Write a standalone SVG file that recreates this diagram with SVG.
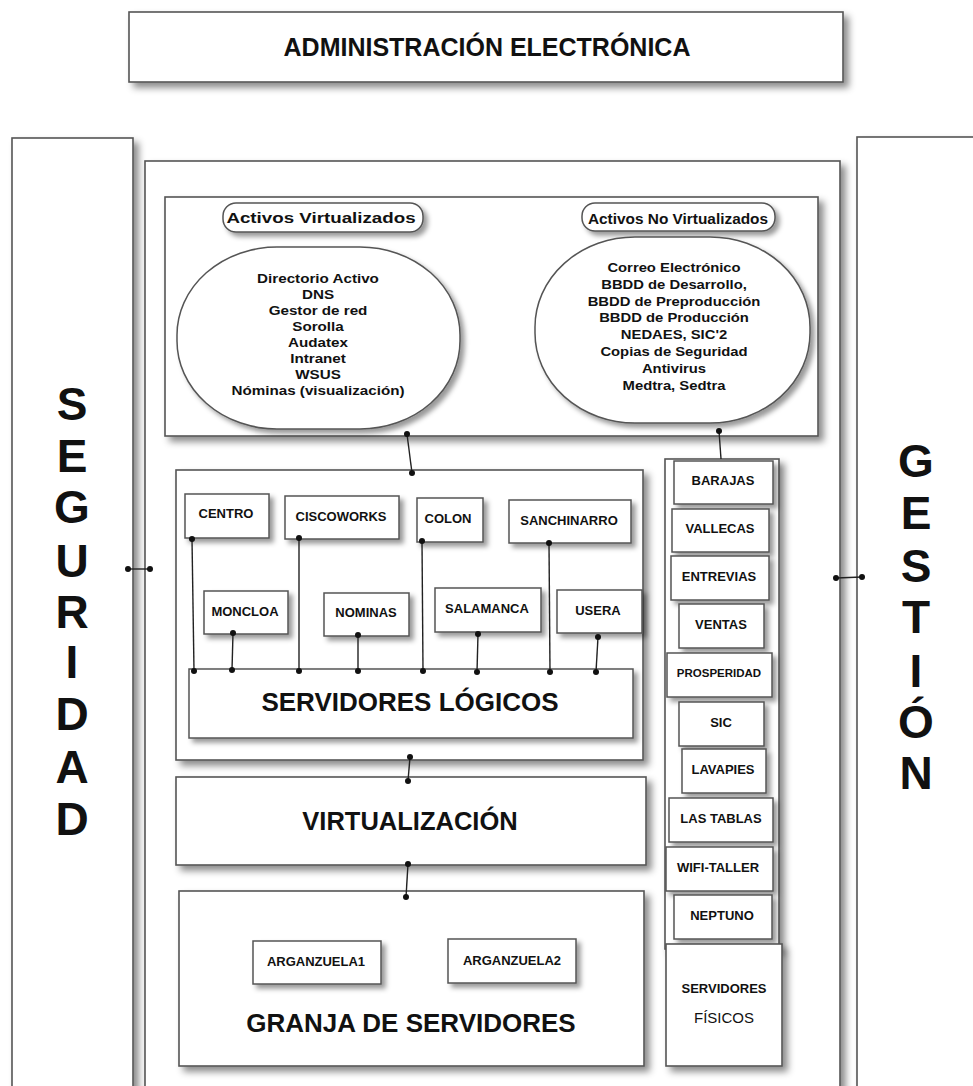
<svg xmlns="http://www.w3.org/2000/svg" width="973" height="1086" viewBox="0 0 973 1086">
<defs>
<filter id="sh" x="-10%" y="-10%" width="130%" height="130%">
<feDropShadow dx="5" dy="5" stdDeviation="3.5" flood-color="#000" flood-opacity="0.45"/>
</filter>
<filter id="shs" x="-20%" y="-20%" width="150%" height="160%">
<feDropShadow dx="4" dy="4" stdDeviation="2.5" flood-color="#000" flood-opacity="0.4"/>
</filter>
<style>
.box{fill:#fff;stroke:#555;stroke-width:1.6;filter:url(#sh)}
.sbox{fill:#fff;stroke:#555;stroke-width:1.5;filter:url(#shs)}
.t{font-family:"Liberation Sans",Arial,sans-serif;font-weight:bold;fill:#111;text-anchor:middle}
.big{font-size:26px}
.lbl{font-size:13px}
.side{font-size:46px}
.line{stroke:#222;stroke-width:1.4;fill:none}
.dot{fill:#111}
</style>
</defs>
<rect width="973" height="1086" fill="#fff"/>

<g id="admin-electronica">
<rect class="box" x="129" y="12" width="714" height="70"/>
<text class="t" x="487" y="56" font-size="25">ADMINISTRACIÓN ELECTRÓNICA</text>
</g>

<g id="seguridad">
<rect class="box" x="12" y="138" width="121" height="970"/>
<text class="t side" x="72" y="420">S</text>
<text class="t side" x="72" y="472">E</text>
<text class="t side" x="72" y="523">G</text>
<text class="t side" x="72" y="577">U</text>
<text class="t side" x="72" y="628">R</text>
<text class="t side" x="72" y="678">I</text>
<text class="t side" x="72" y="730">D</text>
<text class="t side" x="72" y="783">A</text>
<text class="t side" x="72" y="835">D</text>
</g>

<g id="gestion">
<rect class="box" x="857" y="137" width="130" height="970"/>
<text class="t side" x="916" y="477">G</text>
<text class="t side" x="916" y="529">E</text>
<text class="t side" x="916" y="582">S</text>
<text class="t side" x="916" y="633">T</text>
<text class="t side" x="916" y="687">I</text>
<text class="t side" x="916" y="738">Ó</text>
<text class="t side" x="916" y="789">N</text>
</g>

<g id="main-container">
<rect class="box" x="145" y="161" width="695" height="950"/>
</g>

<g id="activos">
<rect class="box" x="165" y="197" width="653" height="239"/>
</g>

<g id="activos-virtualizados">
<rect class="sbox" x="223" y="203" width="200" height="29" rx="13" ry="13"/>
<text class="t" font-size="15" transform="translate(321,223) scale(1.25,1)" x="0" y="0">Activos Virtualizados</text>
<rect class="sbox" x="177" y="247" width="283" height="182" rx="100" ry="88"/>
<g transform="translate(318,0) scale(1.17,1)">
<text class="t" font-size="13" x="0" y="283">Directorio Activo</text>
<text class="t" font-size="13" x="0" y="299">DNS</text>
<text class="t" font-size="13" x="0" y="315">Gestor de red</text>
<text class="t" font-size="13" x="0" y="331">Sorolla</text>
<text class="t" font-size="13" x="0" y="347">Audatex</text>
<text class="t" font-size="13" x="0" y="363">Intranet</text>
<text class="t" font-size="13" x="0" y="379">WSUS</text>
<text class="t" font-size="13" x="0" y="395">Nóminas (visualización)</text>
</g>
</g>

<g id="activos-no-virtualizados">
<rect class="sbox" x="582" y="203" width="193" height="28" rx="13" ry="13"/>
<text class="t" font-size="14" transform="translate(678,224) scale(1.1,1)" x="0" y="0">Activos No Virtualizados</text>
<rect class="sbox" x="535" y="237" width="275" height="186" rx="100" ry="90"/>
<g transform="translate(674,0) scale(1.14,1)">
<text class="t" font-size="13" x="0" y="272">Correo Electrónico</text>
<text class="t" font-size="13" x="0" y="289">BBDD de Desarrollo,</text>
<text class="t" font-size="13" x="0" y="306">BBDD de Preproducción</text>
<text class="t" font-size="13" x="0" y="322">BBDD de Producción</text>
<text class="t" font-size="13" x="0" y="339">NEDAES, SIC'2</text>
<text class="t" font-size="13" x="0" y="356">Copias de Seguridad</text>
<text class="t" font-size="13" x="0" y="373">Antivirus</text>
<text class="t" font-size="13" x="0" y="390">Medtra, Sedtra</text>
</g>
</g>

<g id="logicos-area">
<rect class="box" x="176" y="470" width="467" height="290"/>
</g>
<g id="centro"><rect class="sbox" x="185" y="494" width="84" height="44"/><text class="t lbl" x="226" y="518">CENTRO</text></g>
<g id="ciscoworks"><rect class="sbox" x="285" y="496" width="114" height="43"/><text class="t lbl" x="341" y="521">CISCOWORKS</text></g>
<g id="colon"><rect class="sbox" x="417" y="498" width="66" height="44"/><text class="t lbl" x="448" y="523">COLON</text></g>
<g id="sanchinarro"><rect class="sbox" x="509" y="500" width="122" height="43"/><text class="t lbl" x="569" y="525">SANCHINARRO</text></g>
<g id="moncloa"><rect class="sbox" x="204" y="591" width="84" height="43"/><text class="t lbl" x="245" y="616">MONCLOA</text></g>
<g id="nominas"><rect class="sbox" x="324" y="593" width="85" height="43"/><text class="t lbl" x="366" y="617">NOMINAS</text></g>
<g id="salamanca"><rect class="sbox" x="435" y="588" width="106" height="44"/><text class="t lbl" x="487" y="613">SALAMANCA</text></g>
<g id="usera"><rect class="sbox" x="557" y="590" width="85" height="43"/><text class="t lbl" x="598" y="615">USERA</text></g>
<g id="servidores-logicos">
<rect class="sbox" x="189" y="669" width="444" height="69"/>
<text class="t big" x="410" y="711">SERVIDORES LÓGICOS</text>
</g>

<g id="virtualizacion">
<rect class="box" x="176" y="777" width="470" height="88"/>
<text class="t" font-size="25.5" x="410" y="830">VIRTUALIZACIÓN</text>
</g>

<g id="granja-servidores">
<rect class="box" x="179" y="891" width="465" height="175"/>
<text class="t big" x="411" y="1032">GRANJA DE SERVIDORES</text>
</g>
<g id="arganzuela1"><rect class="sbox" x="253" y="941" width="128" height="43"/><text class="t lbl" x="316" y="966">ARGANZUELA1</text></g>
<g id="arganzuela2"><rect class="sbox" x="448" y="939" width="128" height="44"/><text class="t lbl" x="512" y="965">ARGANZUELA2</text></g>

<g id="fisicos-column">
<rect class="box" x="665" y="459" width="114" height="490"/>
</g>
<g id="barajas"><rect class="sbox" x="674" y="461" width="99" height="43"/><text class="t lbl" x="723" y="485">BARAJAS</text></g>
<g id="vallecas"><rect class="sbox" x="672" y="509" width="97" height="43"/><text class="t lbl" x="720" y="533">VALLECAS</text></g>
<g id="entrevias"><rect class="sbox" x="671" y="556" width="98" height="44"/><text class="t lbl" x="719" y="581">ENTREVIAS</text></g>
<g id="ventas"><rect class="sbox" x="679" y="604" width="85" height="44"/><text class="t lbl" x="721" y="629">VENTAS</text></g>
<g id="prosperidad"><rect class="sbox" x="667" y="653" width="105" height="44"/><text class="t" font-size="11.5" x="719" y="677">PROSPERIDAD</text></g>
<g id="sic"><rect class="sbox" x="679" y="702" width="85" height="44"/><text class="t lbl" x="721" y="727">SIC</text></g>
<g id="lavapies"><rect class="sbox" x="682" y="749" width="84" height="44"/><text class="t lbl" x="723" y="774">LAVAPIES</text></g>
<g id="las-tablas"><rect class="sbox" x="669" y="798" width="104" height="44"/><text class="t lbl" x="721" y="823">LAS TABLAS</text></g>
<g id="wifi-taller"><rect class="sbox" x="666" y="847" width="107" height="44"/><text class="t lbl" x="718" y="872">WIFI-TALLER</text></g>
<g id="neptuno"><rect class="sbox" x="674" y="895" width="98" height="44"/><text class="t lbl" x="722" y="920">NEPTUNO</text></g>
<g id="servidores-fisicos">
<rect class="box" x="666" y="944" width="116" height="122"/>
<text class="t lbl" x="724" y="993">SERVIDORES</text>
<text class="t" font-size="15" font-weight="normal" style="font-weight:normal" x="724" y="1023">FÍSICOS</text>
</g>

<g id="connectors">
<line class="line" x1="407" y1="434" x2="412" y2="473"/>
<circle class="dot" cx="407" cy="434" r="3"/><circle class="dot" cx="412" cy="473" r="3"/>
<line class="line" x1="719" y1="431" x2="721" y2="459"/>
<circle class="dot" cx="719" cy="431" r="3"/>
<line class="line" x1="192" y1="539" x2="194" y2="671"/>
<circle class="dot" cx="192" cy="539" r="3"/><circle class="dot" cx="194" cy="671" r="3"/>
<line class="line" x1="233" y1="633" x2="232" y2="670"/>
<circle class="dot" cx="233" cy="633" r="3"/><circle class="dot" cx="232" cy="670" r="3"/>
<line class="line" x1="299" y1="538" x2="299" y2="671"/>
<circle class="dot" cx="299" cy="538" r="3"/><circle class="dot" cx="299" cy="671" r="3"/>
<line class="line" x1="358" y1="635" x2="358" y2="671"/>
<circle class="dot" cx="358" cy="635" r="3"/><circle class="dot" cx="358" cy="671" r="3"/>
<line class="line" x1="422" y1="541" x2="423" y2="671"/>
<circle class="dot" cx="422" cy="541" r="3"/><circle class="dot" cx="423" cy="671" r="3"/>
<line class="line" x1="478" y1="634" x2="477" y2="672"/>
<circle class="dot" cx="478" cy="634" r="3"/><circle class="dot" cx="477" cy="672" r="3"/>
<line class="line" x1="549" y1="543" x2="550" y2="672"/>
<circle class="dot" cx="549" cy="543" r="3"/><circle class="dot" cx="550" cy="672" r="3"/>
<line class="line" x1="598" y1="637" x2="596" y2="672"/>
<circle class="dot" cx="598" cy="637" r="3"/><circle class="dot" cx="596" cy="672" r="3"/>
<line class="line" x1="410" y1="757" x2="408" y2="781"/>
<circle class="dot" cx="410" cy="757" r="3"/><circle class="dot" cx="408" cy="781" r="3"/>
<line class="line" x1="408" y1="864" x2="406" y2="897"/>
<circle class="dot" cx="408" cy="864" r="3"/><circle class="dot" cx="406" cy="897" r="3"/>
<line class="line" x1="128" y1="569" x2="150" y2="569"/>
<circle class="dot" cx="128" cy="569" r="3"/><circle class="dot" cx="150" cy="569" r="3"/>
<line class="line" x1="836" y1="578" x2="862" y2="577"/>
<circle class="dot" cx="836" cy="578" r="3"/><circle class="dot" cx="862" cy="577" r="3"/>
</g>
</svg>
